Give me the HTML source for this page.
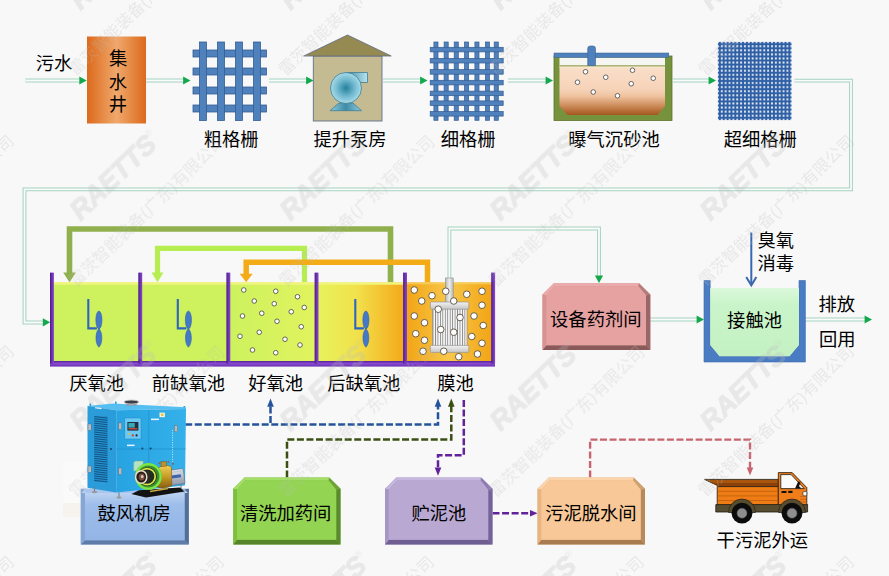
<!DOCTYPE html>
<html lang="zh"><head><meta charset="utf-8"><title>污水处理工艺流程图</title>
<style>html,body{margin:0;padding:0;background:#f8f8f8;}body{width:889px;height:576px;overflow:hidden;font-family:"Liberation Sans",sans-serif;}svg{display:block}.lb{font-family:"Liberation Sans","Noto Sans CJK SC",sans-serif;font-size:18.3px;fill:#000}</style></head>
<body>
<svg width="889" height="576" viewBox="0 0 889 576">
<rect width="889" height="576" fill="#f8f8f8"/>
<path d="M25.5 80.5H81.0" fill="none" stroke="#a3d2bf" stroke-width="3.8" stroke-linejoin="miter"/><path d="M25.5 80.5H81.0" fill="none" stroke="#fbfbfb" stroke-width="1.8" stroke-linejoin="miter"/>
<polygon points="79.30,76.40 86.70,80.50 79.30,84.60" fill="#12a84b"/>
<path d="M146.0 80.5H185.0" fill="none" stroke="#a3d2bf" stroke-width="3.8" stroke-linejoin="miter"/><path d="M146.0 80.5H185.0" fill="none" stroke="#fbfbfb" stroke-width="1.8" stroke-linejoin="miter"/>
<polygon points="183.10,76.40 190.50,80.50 183.10,84.60" fill="#12a84b"/>
<path d="M269.0 80.5H307.0" fill="none" stroke="#a3d2bf" stroke-width="3.8" stroke-linejoin="miter"/><path d="M269.0 80.5H307.0" fill="none" stroke="#fbfbfb" stroke-width="1.8" stroke-linejoin="miter"/>
<polygon points="306.10,76.40 313.50,80.50 306.10,84.60" fill="#12a84b"/>
<path d="M383.0 80.5H421.0" fill="none" stroke="#a3d2bf" stroke-width="3.8" stroke-linejoin="miter"/><path d="M383.0 80.5H421.0" fill="none" stroke="#fbfbfb" stroke-width="1.8" stroke-linejoin="miter"/>
<polygon points="420.10,76.40 427.50,80.50 420.10,84.60" fill="#12a84b"/>
<path d="M508.0 80.5H546.0" fill="none" stroke="#a3d2bf" stroke-width="3.8" stroke-linejoin="miter"/><path d="M508.0 80.5H546.0" fill="none" stroke="#fbfbfb" stroke-width="1.8" stroke-linejoin="miter"/>
<polygon points="545.60,76.40 553.00,80.50 545.60,84.60" fill="#12a84b"/>
<path d="M673.0 80.5H710.0" fill="none" stroke="#a3d2bf" stroke-width="3.8" stroke-linejoin="miter"/><path d="M673.0 80.5H710.0" fill="none" stroke="#fbfbfb" stroke-width="1.8" stroke-linejoin="miter"/>
<polygon points="708.60,76.40 716.00,80.50 708.60,84.60" fill="#12a84b"/>
<path d="M794.5 80.7H851V189.4H24.5V322.5H43.5" fill="none" stroke="#a3d2bf" stroke-width="3.8" stroke-linejoin="miter"/><path d="M794.5 80.7H851V189.4H24.5V322.5H43.5" fill="none" stroke="#fbfbfb" stroke-width="1.8" stroke-linejoin="miter"/>
<polygon points="42.80,318.20 50.20,322.30 42.80,326.40" fill="#12a84b"/>
<path d="M449.4 280V228.5H599V276" fill="none" stroke="#a3d2bf" stroke-width="3.8" stroke-linejoin="miter"/><path d="M449.4 280V228.5H599V276" fill="none" stroke="#fbfbfb" stroke-width="1.8" stroke-linejoin="miter"/>
<polygon points="594.90,275.60 599.00,283.00 603.10,275.60" fill="#12a84b"/>
<path d="M650 319.5H697" fill="none" stroke="#a3d2bf" stroke-width="3.8" stroke-linejoin="miter"/><path d="M650 319.5H697" fill="none" stroke="#fbfbfb" stroke-width="1.8" stroke-linejoin="miter"/>
<polygon points="696.60,315.40 704.00,319.50 696.60,323.60" fill="#12a84b"/>
<path d="M805 319.5H865" fill="none" stroke="#a3d2bf" stroke-width="3.8" stroke-linejoin="miter"/><path d="M805 319.5H865" fill="none" stroke="#fbfbfb" stroke-width="1.8" stroke-linejoin="miter"/>
<polygon points="864.60,315.40 872.00,319.50 864.60,323.60" fill="#12a84b"/>
<defs><linearGradient id="og" x1="0" x2="1" y1="0" y2="0"><stop offset="0" stop-color="#dc6a1c"/><stop offset=".5" stop-color="#f0a86c"/><stop offset="1" stop-color="#dc6a1c"/></linearGradient></defs>
<rect x="87" y="36.5" width="59" height="87" fill="url(#og)"/>
<text class="lb" x="35.74" y="70.36">污水</text>
<text class="lb" x="108.90" y="65.06">集</text><text class="lb" x="108.76" y="88.86">水</text><text class="lb" x="108.83" y="111.26">井</text>
<g fill="#4f81bd" stroke="#355c93" stroke-width="0.80"><rect x="193.00" y="50.00" width="73.50" height="7.00"/><rect x="193.00" y="68.00" width="73.50" height="7.00"/><rect x="193.00" y="87.00" width="73.50" height="7.00"/><rect x="193.00" y="105.00" width="73.50" height="7.00"/><rect x="199.50" y="42.00" width="7.00" height="78.50"/><rect x="217.50" y="42.00" width="7.00" height="78.50"/><rect x="235.50" y="42.00" width="7.00" height="78.50"/><rect x="253.50" y="42.00" width="7.00" height="78.50"/></g>
<text class="lb" x="203.74" y="145.86">粗格栅</text>
<rect x="313.3" y="56" width="68.7" height="65" fill="#c5bb93" stroke="#5f6f8a" stroke-width=".9"/>
<polygon points="303.7,56 347.5,35 391.2,56" fill="#958a52" stroke="#5d6a84" stroke-width=".8"/>
<defs><radialGradient id="pg" cx=".5" cy=".5" r=".5"><stop offset="0" stop-color="#25809c"/><stop offset=".55" stop-color="#6fb8cf"/><stop offset="1" stop-color="#a9dbe8"/></radialGradient><linearGradient id="pg2" x1="0" x2="1" y1="0" y2="0"><stop offset="0" stop-color="#3f8ba6"/><stop offset="1" stop-color="#b9e4f0"/></linearGradient><linearGradient id="pg3" x1="0" x2="1" y1="0" y2="0"><stop offset="0" stop-color="#8ccbe0"/><stop offset=".5" stop-color="#3f8ba6"/><stop offset="1" stop-color="#8ccbe0"/></linearGradient></defs>
<g stroke="#3f7d93" stroke-width=".8"><path d="M346 72.5H367.5V82.5H356Z" fill="url(#pg2)"/><polygon points="339,103 353,103 361.5,110.7 330,110.7" fill="url(#pg3)"/><circle cx="346" cy="88" r="15.5" fill="url(#pg)"/></g>
<text class="lb" x="313.43" y="145.86">提升泵房</text>
<g fill="#4f81bd" stroke="#355c93" stroke-width="0.70"><rect x="433.90" y="42.00" width="4.10" height="78.30"/><rect x="444.10" y="42.00" width="4.10" height="78.30"/><rect x="454.20" y="42.00" width="4.10" height="78.30"/><rect x="464.50" y="42.00" width="4.10" height="78.30"/><rect x="474.90" y="42.00" width="4.10" height="78.30"/><rect x="485.40" y="42.00" width="4.10" height="78.30"/><rect x="494.20" y="42.00" width="4.10" height="78.30"/><rect x="430.20" y="47.30" width="73.00" height="4.60"/><rect x="430.20" y="58.40" width="73.00" height="4.60"/><rect x="430.20" y="69.60" width="73.00" height="4.60"/><rect x="430.20" y="80.30" width="73.00" height="4.60"/><rect x="430.20" y="91.10" width="73.00" height="4.60"/><rect x="430.20" y="100.90" width="73.00" height="4.60"/><rect x="430.20" y="111.50" width="73.00" height="4.60"/></g>
<text class="lb" x="440.82" y="145.86">细格栅</text>
<defs><linearGradient id="gw" x1="0" x2="0" y1="0" y2="1"><stop offset="0" stop-color="#fadfca"/><stop offset=".48" stop-color="#f6d3b8"/><stop offset=".62" stop-color="#efc29e"/><stop offset=".86" stop-color="#c47e4a"/><stop offset="1" stop-color="#a4561e"/></linearGradient></defs>
<rect x="554" y="56" width="118" height="64.5" fill="#76923c" stroke="#5b7328" stroke-width=".8"/>
<rect x="559.5" y="57.5" width="105.5" height="9" fill="#f6f6f2"/>
<polygon points="559.5,65.8 665,65.8 665,106 657.5,115 567.5,115 559.5,106" fill="url(#gw)"/>
<rect x="559.5" y="65.3" width="105.5" height="1.3" fill="#8a9a4a"/><rect x="559.5" y="66.6" width="105.5" height="1.1" fill="#f4edcf"/>
<rect x="554" y="53" width="114.8" height="4.4" fill="#4f81bd" stroke="#3a5f91" stroke-width=".5"/>
<path d="M587.7 65.5V48.5a2.5 2.5 0 0 1 2.5 -2.5h2.8a2.5 2.5 0 0 1 2.5 2.5V65.5Z" fill="#4f81bd" stroke="#3a5f91" stroke-width=".6"/>
<g fill="#fff" stroke="#666" stroke-width="1.00"><circle cx="585.50" cy="71.75" r="2.30"/><circle cx="577.50" cy="82.25" r="2.30"/><circle cx="605.75" cy="77.25" r="2.30"/><circle cx="593.25" cy="92.00" r="2.30"/><circle cx="617.50" cy="95.75" r="2.30"/><circle cx="632.50" cy="70.25" r="2.30"/><circle cx="631.25" cy="83.75" r="2.30"/><circle cx="653.25" cy="78.25" r="2.30"/></g>
<text class="lb" x="568.31" y="145.86">曝气沉砂池</text>
<defs><pattern id="uf" x="719.87" y="44.15" width="3.86" height="4.09" patternUnits="userSpaceOnUse"><rect width="3.86" height="4.09" fill="#2f60a6"/><rect x="1.05" y="1.1" width="1.76" height="1.9" rx=".3" fill="#f6f8fb"/></pattern></defs>
<rect x="717.9" y="41.9" width="73.6" height="78.2" fill="url(#uf)"/>
<text class="lb" x="723.73" y="145.86">超细格栅</text>
<path d="M390.50 282.60V229.00H69.50V273.10" fill="none" stroke="#8fb04c" stroke-width="5.60"/><polygon points="63.20,272.60 75.80,272.60 69.50,282.30" fill="#8fb04c"/>
<path d="M304.50 282.60V248.30H157.50V273.10" fill="none" stroke="#b6ee52" stroke-width="5.20"/><polygon points="151.50,272.60 163.50,272.60 157.50,282.30" fill="#b6ee52"/>
<path d="M427.50 282.60V262.30H246.20V274.30" fill="none" stroke="#f3ab17" stroke-width="5.50"/><polygon points="239.70,273.80 252.70,273.80 246.20,282.30" fill="#f3ab17"/>
<defs><linearGradient id="t3" x1="0" x2="1"><stop offset="0" stop-color="#cdf25e"/><stop offset="1" stop-color="#e0f35e"/></linearGradient><linearGradient id="t4" x1="0" x2="1"><stop offset="0" stop-color="#e6f35c"/><stop offset=".45" stop-color="#f1e24c"/><stop offset=".8" stop-color="#f4bd2c"/><stop offset="1" stop-color="#f2a91a"/></linearGradient><linearGradient id="t5" x1="0" x2="1"><stop offset="0" stop-color="#f2a414"/><stop offset=".5" stop-color="#f8c74a"/><stop offset="1" stop-color="#f2a414"/></linearGradient><linearGradient id="wl" x1="0" x2="1"><stop offset="0" stop-color="#47188a"/><stop offset=".45" stop-color="#6a30ae"/><stop offset="1" stop-color="#8748c8"/></linearGradient><linearGradient id="fl" x1="0" x2="0" y1="0" y2="1"><stop offset="0" stop-color="#54249a"/><stop offset=".45" stop-color="#8848cf"/><stop offset="1" stop-color="#6a34b2"/></linearGradient></defs>
<rect x="53" y="282.4" width="86" height="79.1" fill="#cdf25e"/>
<rect x="141" y="282.4" width="86" height="79.1" fill="#cdf25e"/>
<rect x="229" y="282.4" width="87" height="79.1" fill="url(#t3)"/>
<rect x="317" y="282.4" width="87" height="79.1" fill="url(#t4)"/>
<rect x="406" y="282.4" width="86" height="79.1" fill="url(#t5)"/>
<rect x="53" y="282.2" width="351" height="2.5" fill="#f1f580"/>
<rect x="406" y="282.4" width="86" height="2" fill="#f8d060" opacity=".8"/>
<rect x="50" y="361" width="445" height="5.6" fill="url(#fl)"/>
<rect x="50.0" y="272.6" width="3.9" height="91" fill="url(#wl)"/>
<rect x="138.3" y="272.6" width="3.9" height="91" fill="url(#wl)"/>
<rect x="226.4" y="272.6" width="3.9" height="91" fill="url(#wl)"/>
<rect x="314.6" y="272.6" width="3.9" height="91" fill="url(#wl)"/>
<rect x="403.1" y="272.6" width="3.9" height="91" fill="url(#wl)"/>
<rect x="491.2" y="272.6" width="3.9" height="91" fill="url(#wl)"/>
<path d="M88.30 298.9V328.4H96.90" fill="none" stroke="#2f66bd" stroke-width="2.1"/><ellipse cx="98.90" cy="320" rx="3.05" ry="8.9" fill="#4579c6" stroke="#2f5fb0" stroke-width=".6"/><path d="M98.90 328.6C94.70 333 95.30 344 98.90 347.2C102.50 344 103.10 333 98.90 328.6Z" fill="#4579c6" stroke="#2f5fb0" stroke-width=".6"/>
<path d="M177.80 298.9V328.4H186.40" fill="none" stroke="#2f66bd" stroke-width="2.1"/><ellipse cx="188.40" cy="320" rx="3.05" ry="8.9" fill="#4579c6" stroke="#2f5fb0" stroke-width=".6"/><path d="M188.40 328.6C184.20 333 184.80 344 188.40 347.2C192.00 344 192.60 333 188.40 328.6Z" fill="#4579c6" stroke="#2f5fb0" stroke-width=".6"/>
<path d="M355.30 298.9V328.4H363.90" fill="none" stroke="#2f66bd" stroke-width="2.1"/><ellipse cx="365.90" cy="320" rx="3.05" ry="8.9" fill="#4579c6" stroke="#2f5fb0" stroke-width=".6"/><path d="M365.90 328.6C361.70 333 362.30 344 365.90 347.2C369.50 344 370.10 333 365.90 328.6Z" fill="#4579c6" stroke="#2f5fb0" stroke-width=".6"/>
<g fill="#fff" stroke="#555" stroke-width="0.90"><circle cx="243.75" cy="290.00" r="2.30"/><circle cx="275.75" cy="291.25" r="2.30"/><circle cx="297.50" cy="296.75" r="2.30"/><circle cx="254.25" cy="301.00" r="2.30"/><circle cx="274.25" cy="303.75" r="2.30"/><circle cx="304.25" cy="307.50" r="2.30"/><circle cx="291.25" cy="311.75" r="2.30"/><circle cx="261.75" cy="313.25" r="2.30"/><circle cx="242.50" cy="316.00" r="2.30"/><circle cx="277.00" cy="321.25" r="2.30"/><circle cx="301.25" cy="326.75" r="2.30"/><circle cx="259.25" cy="332.25" r="2.30"/><circle cx="240.00" cy="336.25" r="2.30"/><circle cx="285.00" cy="339.25" r="2.30"/><circle cx="300.00" cy="345.00" r="2.30"/><circle cx="252.50" cy="350.00" r="2.30"/><circle cx="275.75" cy="352.75" r="2.30"/></g>
<defs><pattern id="rib" x="432.6" y="0" width="2.45" height="4" patternUnits="userSpaceOnUse"><rect width="2.45" height="4" fill="#f6f6f6"/><rect width=".85" height="4" fill="#868686"/></pattern><linearGradient id="cap" x1="0" x2="0" y1="0" y2="1"><stop offset="0" stop-color="#f2f2f2"/><stop offset="1" stop-color="#c6c6c6"/></linearGradient><linearGradient id="pp" x1="0" x2="1"><stop offset="0" stop-color="#b9b9b9"/><stop offset=".5" stop-color="#ececec"/><stop offset="1" stop-color="#b9b9b9"/></linearGradient></defs>
<rect x="445.6" y="278" width="7.6" height="25" fill="url(#pp)" stroke="#8c8c8c" stroke-width=".6"/>
<rect x="432.6" y="308" width="34.4" height="38.5" fill="url(#rib)" stroke="#808080" stroke-width=".6"/>
<rect x="430.4" y="302" width="38.4" height="7.2" rx=".8" fill="url(#cap)" stroke="#8c8c8c" stroke-width=".6"/>
<rect x="430.4" y="345.4" width="38.4" height="7" rx=".8" fill="url(#cap)" stroke="#8c8c8c" stroke-width=".6"/>
<g fill="#fff" stroke="#5a5040" stroke-width="0.90"><circle cx="414.25" cy="290.00" r="3.30"/><circle cx="432.00" cy="295.75" r="3.30"/><circle cx="445.75" cy="291.25" r="3.30"/><circle cx="466.75" cy="294.25" r="3.30"/><circle cx="482.00" cy="291.25" r="3.30"/><circle cx="421.75" cy="301.00" r="3.30"/><circle cx="453.75" cy="301.00" r="3.30"/><circle cx="482.00" cy="305.25" r="3.30"/><circle cx="438.25" cy="309.25" r="3.30"/><circle cx="414.25" cy="316.00" r="3.30"/><circle cx="424.50" cy="322.75" r="3.30"/><circle cx="460.00" cy="317.50" r="3.30"/><circle cx="474.00" cy="316.00" r="3.30"/><circle cx="483.25" cy="325.50" r="3.30"/><circle cx="440.75" cy="329.50" r="3.30"/><circle cx="453.75" cy="332.25" r="3.30"/><circle cx="415.75" cy="333.75" r="3.30"/><circle cx="424.50" cy="340.25" r="3.30"/><circle cx="471.75" cy="336.50" r="3.30"/><circle cx="482.00" cy="343.25" r="3.30"/><circle cx="423.00" cy="351.25" r="3.30"/><circle cx="443.75" cy="351.25" r="3.30"/><circle cx="477.50" cy="354.00" r="3.30"/><circle cx="458.75" cy="356.75" r="3.30"/></g>
<text class="lb" x="69.20" y="390.06">厌氧池</text>
<text class="lb" x="151.84" y="390.06">前缺氧池</text>
<text class="lb" x="248.25" y="390.06">好氧池</text>
<text class="lb" x="327.25" y="390.06">后缺氧池</text>
<text class="lb" x="437.16" y="390.06">膜池</text>
<polygon points="542.50,294.50 553.80,283.20 639.00,283.20 650.30,294.50 650.30,350.00 542.50,350.00" fill="#d89292"/><polygon points="542.50,294.50 553.80,283.20 554.40,286.20 546.30,295.26" fill="#eaabab"/><polygon points="553.80,283.20 639.00,283.20 638.40,286.20 554.40,286.20" fill="#eaabab"/><polygon points="639.00,283.20 650.30,294.50 646.00,295.36 638.40,286.20" fill="#b47c7c"/><polygon points="650.30,294.50 650.30,350.00 646.00,345.20 646.00,295.36" fill="#9a6666"/><polygon points="650.30,350.00 542.50,350.00 546.30,345.20 646.00,345.20" fill="#8a5a5a"/><polygon points="542.50,350.00 542.50,294.50 546.30,295.26 546.30,345.20" fill="#d89292"/><polygon points="546.30,295.26 554.40,286.20 638.40,286.20 646.00,295.36 646.00,345.20 546.30,345.20" fill="#e6a1a1"/>
<text class="lb" x="550.08" y="326.06">设备药剂间</text>
<defs><linearGradient id="ct" x1="0" x2="0" y1="0" y2="1"><stop offset="0" stop-color="#dbf8db"/><stop offset=".25" stop-color="#c9f4c9"/><stop offset="1" stop-color="#c4f1c4"/></linearGradient></defs>
<path d="M704 280.5H710.2V345L719.5 356.3H789.5L799 345V280.5H805.4V362H704Z" fill="#4a7cc4" stroke="#3c68aa" stroke-width=".6"/>
<polygon points="710.2,288 799,288 799,345 789.5,356.3 719.5,356.3 710.2,345" fill="url(#ct)"/>
<text class="lb" x="727.12" y="326.86">接触池</text>
<path d="M751.3 232.5V284.5" stroke="#3a68ae" stroke-width="2" fill="none"/><path d="M746.2 277L751.3 285.3L756.4 277" stroke="#3a68ae" stroke-width="2" fill="none" stroke-linejoin="miter"/>
<text class="lb" x="757.44" y="247.36">臭氧</text>
<text class="lb" x="757.53" y="270.06">消毒</text>
<text class="lb" x="818.58" y="310.66">排放</text>
<text class="lb" x="818.97" y="345.66">回用</text>
<path d="M185.2 424.5H438V406" fill="none" stroke="#24539b" stroke-width="2.5" stroke-dasharray="7 2.56"/>
<path d="M270.5 423V406" fill="none" stroke="#24539b" stroke-width="2.5" stroke-dasharray="7 2.56"/>
<polygon points="267.20,406.80 270.50,398.60 273.80,406.80" fill="#24539b"/>
<polygon points="434.70,406.80 438.00,398.60 441.30,406.80" fill="#24539b"/>
<path d="M287 477.5V439.6H451.3V406" fill="none" stroke="#3a4f12" stroke-width="2.5" stroke-dasharray="7 2.56"/>
<polygon points="448.00,406.80 451.30,398.60 454.60,406.80" fill="#3a4f12"/>
<path d="M463.8 400V455.2H438V468" fill="none" stroke="#62239a" stroke-width="2.5" stroke-dasharray="7 2.56"/>
<polygon points="434.70,467.60 438.00,475.80 441.30,467.60" fill="#62239a"/>
<path d="M492.5 513.2H530" fill="none" stroke="#62239a" stroke-width="2.5" stroke-dasharray="7 2.56"/>
<polygon points="530.00,509.90 537.60,513.20 530.00,516.50" fill="#62239a"/>
<path d="M590.1 477.5V439.6H750V468" fill="none" stroke="#c8646f" stroke-width="2.4" stroke-dasharray="7 2.56"/>
<polygon points="746.70,467.40 750.00,475.60 753.30,467.40" fill="#c8646f"/>
<defs><linearGradient id="pf" x1="0" x2="0" y1="0" y2="1"><stop offset="0" stop-color="#c4d8f3"/><stop offset=".3" stop-color="#9dbdea"/><stop offset="1" stop-color="#93b5e6"/></linearGradient></defs>
<rect x="63" y="462" width="23" height="41" fill="#fcfcfc" opacity=".6"/><rect x="63" y="503" width="23" height="14" fill="#f3ece2" opacity=".4"/>
<polygon points="80.80,488.81 80.81,488.80 188.79,488.80 188.80,488.81 188.80,544.50 80.80,544.50" fill="#86a7d6"/><polygon points="80.80,488.81 80.81,488.80 81.65,493.00 85.00,489.65" fill="#a9c6ee"/><polygon points="80.81,488.80 188.79,488.80 187.95,493.00 81.65,493.00" fill="#a9c6ee"/><polygon points="188.79,488.80 188.80,488.81 184.60,489.65 187.95,493.00" fill="#536f98"/><polygon points="188.80,488.81 188.80,544.50 184.60,540.30 184.60,489.65" fill="#536f98"/><polygon points="188.80,544.50 80.80,544.50 85.00,540.30 184.60,540.30" fill="#5f7ca8"/><polygon points="80.80,544.50 80.80,488.81 85.00,489.65 85.00,540.30" fill="#86a7d6"/><polygon points="85.00,489.65 81.65,493.00 187.95,493.00 184.60,489.65 184.60,540.30 85.00,540.30" fill="url(#pf)"/>
<polygon points="233.20,488.80 244.50,477.50 329.20,477.50 340.50,488.80 340.50,544.50 233.20,544.50" fill="#7fbe42"/><polygon points="233.20,488.80 244.50,477.50 245.10,480.50 237.00,489.56" fill="#a4de68"/><polygon points="244.50,477.50 329.20,477.50 328.60,480.50 245.10,480.50" fill="#a4de68"/><polygon points="329.20,477.50 340.50,488.80 336.20,489.66 328.60,480.50" fill="#6ea238"/><polygon points="340.50,488.80 340.50,544.50 336.20,539.70 336.20,489.66" fill="#5a8a2c"/><polygon points="340.50,544.50 233.20,544.50 237.00,539.70 336.20,539.70" fill="#568428"/><polygon points="233.20,544.50 233.20,488.80 237.00,489.56 237.00,539.70" fill="#7fbe42"/><polygon points="237.00,489.56 245.10,480.50 328.60,480.50 336.20,489.66 336.20,539.70 237.00,539.70" fill="#93d552"/>
<polygon points="385.00,488.80 396.30,477.50 481.20,477.50 492.50,488.80 492.50,544.50 385.00,544.50" fill="#a796c4"/><polygon points="385.00,488.80 396.30,477.50 396.90,480.50 388.80,489.56" fill="#c6b8dc"/><polygon points="396.30,477.50 481.20,477.50 480.60,480.50 396.90,480.50" fill="#c6b8dc"/><polygon points="481.20,477.50 492.50,488.80 488.20,489.66 480.60,480.50" fill="#8d7cb2"/><polygon points="492.50,488.80 492.50,544.50 488.20,539.70 488.20,489.66" fill="#74639a"/><polygon points="492.50,544.50 385.00,544.50 388.80,539.70 488.20,539.70" fill="#6e5e92"/><polygon points="385.00,544.50 385.00,488.80 388.80,489.56 388.80,539.70" fill="#a796c4"/><polygon points="388.80,489.56 396.90,480.50 480.60,480.50 488.20,489.66 488.20,539.70 388.80,539.70" fill="#b9a8d2"/>
<polygon points="537.50,488.80 548.80,477.50 633.70,477.50 645.00,488.80 645.00,544.50 537.50,544.50" fill="#e8b482"/><polygon points="537.50,488.80 548.80,477.50 549.40,480.50 541.30,489.56" fill="#fbd4ac"/><polygon points="548.80,477.50 633.70,477.50 633.10,480.50 549.40,480.50" fill="#fbd4ac"/><polygon points="633.70,477.50 645.00,488.80 640.70,489.66 633.10,480.50" fill="#cfa070"/><polygon points="645.00,488.80 645.00,544.50 640.70,539.70 640.70,489.66" fill="#b88a5a"/><polygon points="645.00,544.50 537.50,544.50 541.30,539.70 640.70,539.70" fill="#a87c50"/><polygon points="537.50,544.50 537.50,488.80 541.30,489.56 541.30,539.70" fill="#e8b482"/><polygon points="541.30,489.56 549.40,480.50 633.10,480.50 640.70,489.66 640.70,539.70 541.30,539.70" fill="#f8c898"/>
<text class="lb" x="97.55" y="520.26">鼓风机房</text>
<text class="lb" x="239.96" y="520.46">清洗加药间</text>
<text class="lb" x="411.40" y="520.26">贮泥池</text>
<text class="lb" x="545.19" y="520.46">污泥脱水间</text>
<text class="lb" x="716.62" y="546.86">干污泥外运</text>
<g stroke="#201a12" stroke-width=".8" stroke-linejoin="round"><polygon points="704.6,479.4 778.3,479.4 778.3,486.6 719.5,486.6" fill="#a8560e"/><polygon points="712,483 778.3,483 778.3,486.6 719.5,486.6" fill="#8a420a" stroke="none"/><rect x="717.2" y="486.6" width="61.1" height="18.6" fill="#ef7c14"/><path d="M778.3 472.6H792.2L806.8 487.6V506H778.3Z" fill="#ef7d1a"/><path d="M780.8 474.6H791.2L804.2 488.6H780.8Z" fill="#fbfbfb"/><rect x="715.8" y="504.6" width="91.8" height="7.4" fill="#564c30"/></g><g stroke="#b65a10" stroke-width=".7"><path d="M717.6 491.3H778M717.6 495.9H778M717.6 500.5H778"/></g><path d="M728.5 512.5a13.5 13.5 0 0 1 27 0Z" fill="#564c30" stroke="#201a12" stroke-width=".6"/><path d="M778.5 512.5a13.5 13.5 0 0 1 27 0Z" fill="#564c30" stroke="#201a12" stroke-width=".6"/><circle cx="742" cy="513.2" r="10.4" fill="#0c0c0c"/><circle cx="742" cy="513.2" r="5" fill="#8e8e8e" stroke="#555" stroke-width=".5"/><circle cx="792" cy="513.2" r="10.4" fill="#0c0c0c"/><circle cx="792" cy="513.2" r="5" fill="#8e8e8e" stroke="#555" stroke-width=".5"/><rect x="803" y="491.6" width="3.8" height="4.2" rx=".8" fill="#fff" stroke="#201a12" stroke-width=".6"/><path d="M795 488.6L798.3 481.2L800.6 482.6L799 486.2L801.6 488.6Z" fill="#111"/><rect x="781.5" y="491" width="5" height="2" fill="#111"/><rect x="788.3" y="490.8" width="4.2" height="2.2" fill="#111"/><path d="M800 496.5H806.5M800 499.3H806.5M800 502H806.5" stroke="#b65a10" stroke-width=".6"/>
<defs><g id="wm"><g transform="rotate(-44.0)"><text x="0" y="0" font-family="Liberation Sans, sans-serif" font-weight="bold" font-style="italic" font-size="27" stroke-width="1.1">RAETTS</text><text x="107" y="-13.5" font-family="Liberation Sans, sans-serif" font-size="9">®</text><g transform="translate(-49.5 43.5)"><text y="0" font-family="Liberation Sans, Noto Sans CJK SC, sans-serif" font-size="16.4" x="0 16.4 32.8 49.2 65.6 82 98.4 104.24 120.64 137.04 142.88 159.28 175.68 192.08">雷茨智能装备(广东)有限公司</text></g></g></g></defs><g fill="#bdbdbd" stroke="#bdbdbd" stroke-width="0" opacity=".27"><use href="#wm" x="-129.4" y="10.9"/><use href="#wm" x="80.6" y="10.9"/><use href="#wm" x="290.6" y="10.9"/><use href="#wm" x="500.6" y="10.9"/><use href="#wm" x="710.6" y="10.9"/><use href="#wm" x="920.6" y="10.9"/><use href="#wm" x="-129.4" y="221.4"/><use href="#wm" x="80.6" y="221.4"/><use href="#wm" x="290.6" y="221.4"/><use href="#wm" x="500.6" y="221.4"/><use href="#wm" x="710.6" y="221.4"/><use href="#wm" x="920.6" y="221.4"/><use href="#wm" x="-129.4" y="431.9"/><use href="#wm" x="80.6" y="431.9"/><use href="#wm" x="290.6" y="431.9"/><use href="#wm" x="500.6" y="431.9"/><use href="#wm" x="710.6" y="431.9"/><use href="#wm" x="920.6" y="431.9"/><use href="#wm" x="-129.4" y="642.4"/><use href="#wm" x="80.6" y="642.4"/><use href="#wm" x="290.6" y="642.4"/><use href="#wm" x="500.6" y="642.4"/><use href="#wm" x="710.6" y="642.4"/><use href="#wm" x="920.6" y="642.4"/><use href="#wm" x="-129.4" y="852.9"/><use href="#wm" x="80.6" y="852.9"/><use href="#wm" x="290.6" y="852.9"/><use href="#wm" x="500.6" y="852.9"/><use href="#wm" x="710.6" y="852.9"/><use href="#wm" x="920.6" y="852.9"/></g>
<defs><linearGradient id="bf" x1="0" x2="1"><stop offset="0" stop-color="#27a3e2"/><stop offset="1" stop-color="#34b0ea"/></linearGradient><linearGradient id="gd" x1="0" x2="0" y1="0" y2="1"><stop offset="0" stop-color="#f0cf58"/><stop offset=".5" stop-color="#c79a26"/><stop offset="1" stop-color="#8a5f10"/></linearGradient><linearGradient id="mt" x1="0" x2="0" y1="0" y2="1"><stop offset="0" stop-color="#dfe4ec"/><stop offset="1" stop-color="#8d96a8"/></linearGradient></defs><rect x="89.5" y="403.5" width="1.6" height="3.4" fill="#2b9bd6"/><rect x="115.0" y="401.5" width="1.6" height="3.4" fill="#2b9bd6"/><rect x="183.5" y="406.0" width="1.6" height="3.4" fill="#2b9bd6"/><polygon points="87.5,405.9 113,403.4 186,407.2 186,409 116.2,410.3" fill="#56bff1"/><rect x="126.2" y="402.2" width="10.4" height="3.4" fill="#8f969e"/><ellipse cx="131.4" cy="402" rx="7.4" ry="2" fill="#3a3d42" stroke="#c9cdd2" stroke-width=".9"/><polygon points="87.5,405.9 116.2,410.3 116.2,492.5 87.5,487.7" fill="#2a9cd9"/><polygon points="116.2,410.3 186,409 185,485.4 116.2,492.5" fill="url(#bf)"/><rect x="94.2" y="416" width="13.3" height="66" fill="#2391cf"/><g stroke="#12507f" stroke-width=".95"><path d="M94.2 416.6L107.5 418.1"/><path d="M94.2 418.8L107.5 420.3"/><path d="M94.2 421.0L107.5 422.5"/><path d="M94.2 423.2L107.5 424.7"/><path d="M94.2 425.4L107.5 426.9"/><path d="M94.2 427.6L107.5 429.1"/><path d="M94.2 429.8L107.5 431.3"/><path d="M94.2 432.0L107.5 433.5"/><path d="M94.2 434.2L107.5 435.7"/><path d="M94.2 436.4L107.5 437.9"/><path d="M94.2 438.6L107.5 440.1"/><path d="M94.2 440.8L107.5 442.3"/><path d="M94.2 443.0L107.5 444.5"/><path d="M94.2 445.2L107.5 446.7"/><path d="M94.2 447.4L107.5 448.9"/><path d="M94.2 449.6L107.5 451.1"/><path d="M94.2 451.8L107.5 453.3"/><path d="M94.2 454.0L107.5 455.5"/><path d="M94.2 456.2L107.5 457.7"/><path d="M94.2 458.4L107.5 459.9"/><path d="M94.2 460.6L107.5 462.1"/><path d="M94.2 462.8L107.5 464.3"/><path d="M94.2 465.0L107.5 466.5"/><path d="M94.2 467.2L107.5 468.7"/><path d="M94.2 469.4L107.5 470.9"/><path d="M94.2 471.6L107.5 473.1"/><path d="M94.2 473.8L107.5 475.3"/><path d="M94.2 476.0L107.5 477.5"/><path d="M94.2 478.2L107.5 479.7"/><path d="M94.2 480.4L107.5 481.9"/></g><path d="M148.8 410V489M116.2 449H185.6" stroke="#1f8cc9" stroke-width=".6" fill="none"/><rect x="124.8" y="418" width="16.2" height="21" fill="#6cc8f2" stroke="#1f86c2" stroke-width=".5"/><rect x="127.4" y="422" width="11" height="8.6" fill="#20323e"/><rect x="128.4" y="423" width="6.4" height="4.6" fill="#35a9b8"/><rect x="128.4" y="428" width="9" height="1.4" fill="#c24a3a"/><circle cx="128.6" cy="434" r="1" fill="#e8c030"/><circle cx="132.8" cy="435.4" r="1.1" fill="#d43a2a"/><circle cx="136.6" cy="435.4" r="1.1" fill="#1b2a3a"/><rect x="118.6" y="423.0" width="3.2" height="6.4" fill="#b4bcc6" stroke="#54606c" stroke-width=".4"/><rect x="118.6" y="468.0" width="3.2" height="6.4" fill="#b4bcc6" stroke="#54606c" stroke-width=".4"/><rect x="174.4" y="425.4" width="3.2" height="6.4" fill="#b4bcc6" stroke="#54606c" stroke-width=".4"/><rect x="88.0" y="424.0" width="3.2" height="6.4" fill="#b4bcc6" stroke="#54606c" stroke-width=".4"/><rect x="88.0" y="466.0" width="3.2" height="6.4" fill="#b4bcc6" stroke="#54606c" stroke-width=".4"/><rect x="159.5" y="412.6" width="5.4" height="4.6" fill="#f4f1d8"/><rect x="161" y="413.6" width="2.4" height="2.4" fill="#e8c23a"/><rect x="151" y="418.6" width="8" height="1.5" fill="#e9f5fc"/><rect x="127" y="444.6" width="7.6" height="1.5" fill="#e9f5fc"/><rect x="95" y="407.6" width="6.6" height="1.2" fill="#e9f5fc" transform="rotate(8 98 408)"/><path d="M172.6 430V462" stroke="#d4ecf9" stroke-width=".9" stroke-dasharray="1.1 1.3"/><circle cx="142.4" cy="448.6" r="1" fill="#173f5e"/><circle cx="150.6" cy="448.6" r="1" fill="#173f5e"/><circle cx="111" cy="449" r="1" fill="#173f5e"/><path d="M94.5 487.2v4.6" stroke="#7d7d7d" stroke-width="1.1"/><ellipse cx="94.5" cy="492.2" rx="2.8" ry="1.1" fill="#9a9a9a"/><path d="M119.0 492.6v4.6" stroke="#7d7d7d" stroke-width="1.1"/><ellipse cx="119.0" cy="497.6" rx="2.8" ry="1.1" fill="#9a9a9a"/><path d="M181.0 485.1v4.6" stroke="#7d7d7d" stroke-width="1.1"/><ellipse cx="181.0" cy="490.1" rx="2.8" ry="1.1" fill="#9a9a9a"/><polygon points="131.4,494 139,490.2 180,487.6 184.4,491.6 146,497.4" fill="#121212"/><path d="M150 491.4L168 488.6" stroke="#c9a93a" stroke-width="1.5"/><g transform="rotate(-8 177 477)"><rect x="169.6" y="469.4" width="14.6" height="15.2" rx="1.6" fill="url(#mt)" stroke="#5e6676" stroke-width=".5"/><rect x="172" y="474.8" width="9" height="3" fill="#3c62b0"/><path d="M170 471.6h14M170 482.4h14" stroke="#a9b1c0" stroke-width=".5"/></g><path d="M157.2 468.6Q164 463.4 171.4 466.6L171.8 485.6Q164.6 489.4 157.2 487Z" fill="url(#gd)" stroke="#6e4c0c" stroke-width=".5"/><rect x="161" y="461.6" width="5.4" height="4.6" fill="#b9902a" stroke="#6e4c0c" stroke-width=".4"/><circle cx="159.6" cy="463.2" r="1.1" fill="#6a7078"/><circle cx="168.4" cy="462" r="1.1" fill="#6a7078"/><circle cx="173" cy="463.8" r="1.1" fill="#6a7078"/><path d="M133.6 471V463.2Q133.8 461 136 461H143.2V470.4Z" fill="#bfe8c4" stroke="#6fae78" stroke-width=".5" opacity=".92"/><circle cx="148.4" cy="476.4" r="13.2" fill="#3f8e2c"/><circle cx="148.4" cy="476.4" r="12.2" fill="none" stroke="#7be645" stroke-width="2.4"/><circle cx="147.6" cy="476.6" r="9.3" fill="#20301c"/><circle cx="147.2" cy="476.6" r="8" fill="none" stroke="#d9e64a" stroke-width="1.7"/><ellipse cx="144.6" cy="476.8" rx="6.4" ry="6.8" fill="#2a2a26"/><ellipse cx="141.2" cy="477" rx="5.6" ry="6.2" fill="#241c18" stroke="#eadfc6" stroke-width="1.5"/><ellipse cx="141.6" cy="477" rx="3" ry="3.4" fill="#7a4a3a"/><ellipse cx="142.2" cy="476.6" rx="1.4" ry="1.6" fill="#d8c8c0"/>
</svg>
</body></html>
